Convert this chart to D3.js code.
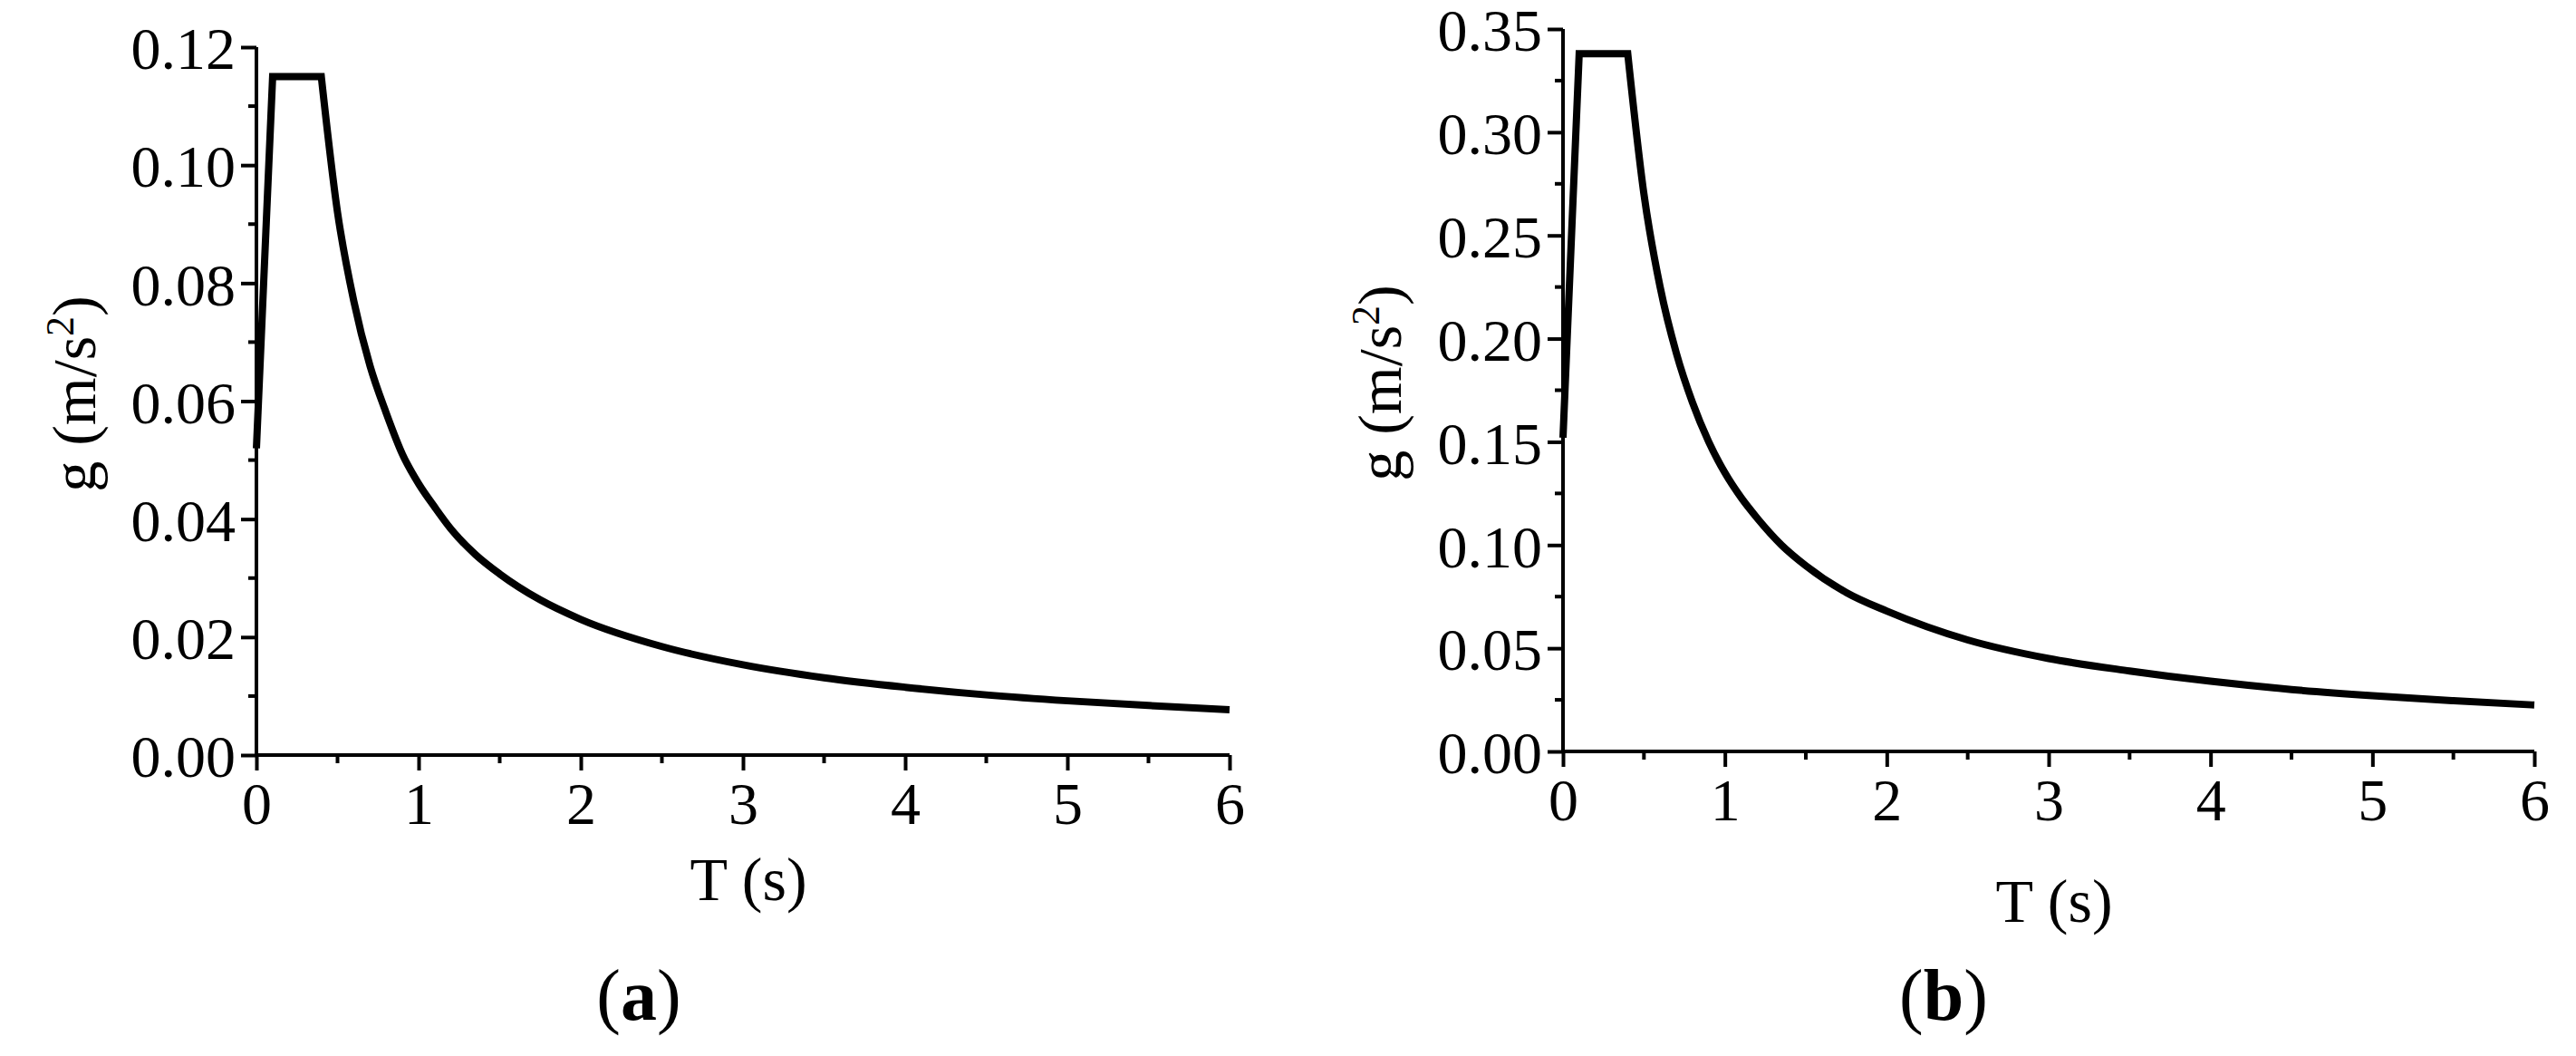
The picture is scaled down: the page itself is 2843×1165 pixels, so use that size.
<!DOCTYPE html>
<html>
<head>
<meta charset="utf-8">
<script src="https://cdn.jsdelivr.net/npm/d3@7"></script>
<style>
  body { margin: 0; background: #fff; }
  text { font-family: "Liberation Serif", "Times New Roman", serif; fill: #000; }
</style>
</head>
<body>
<svg id="chart" width="2843" height="1165"></svg>
<script>
// periods (s) sampled along the curve
const periods = [0, 0.1, 0.4, 0.5, 0.6, 0.7, 0.8, 0.9, 1.0, 1.1, 1.2, 1.35, 1.5, 1.75, 2, 2.5, 3, 3.5, 4, 4.5, 5, 5.5, 6];
// spectrum values
const seriesA = [0.052, 0.115, 0.115, 0.092, 0.077, 0.066, 0.058, 0.051, 0.046, 0.042, 0.0383, 0.034, 0.0307, 0.0263, 0.023, 0.0184, 0.0153, 0.0131, 0.0115, 0.0102, 0.0092, 0.0084, 0.0077];
// spectrum values
const seriesB = [0.152, 0.338, 0.338, 0.270, 0.225, 0.193, 0.169, 0.150, 0.135, 0.123, 0.113, 0.100, 0.090, 0.077, 0.068, 0.054, 0.045, 0.039, 0.034, 0.030, 0.027, 0.0246, 0.0225];
const xTicks = [0, 1, 2, 3, 4, 5, 6];
const yTicksA = [0, 0.02, 0.04, 0.06, 0.08, 0.10, 0.12];
const yTicksB = [0, 0.05, 0.10, 0.15, 0.20, 0.25, 0.30, 0.35];

const svg = d3.select('#chart');

function panel(opts) {
    const { left, right, top, bottom, yMax, yTicks, values, caption, ylabelX, tlabelY, captionX } = opts;
    const x = d3.scaleLinear().domain([0, 6]).range([left, right]);
    const y = d3.scaleLinear().domain([0, yMax]).range([bottom, top]);
    const g = svg.append('g');

    // minor ticks
    const xMinor = d3.range(0, 6.01, 0.5).filter(v => !xTicks.includes(v));
    const step = yTicks[1] - yTicks[0];
    const yMinor = yTicks.slice(0, -1).map(v => v + step / 2);

    const xAxis = d3.axisBottom(x).tickValues(xTicks).tickSize(17).tickPadding(12).tickFormat(d3.format('d'));
    const yAxis = d3.axisLeft(y).tickValues(yTicks).tickSize(17).tickPadding(6).tickFormat(d3.format('.2f'));

    const gx = g.append('g').attr('transform', `translate(0,${bottom})`).call(xAxis);
    const gy = g.append('g').attr('transform', `translate(${left},0)`).call(yAxis);
    [gx, gy].forEach(a => {
        a.select('.domain').attr('stroke', '#000').attr('stroke-width', 4);
        a.selectAll('.tick line').attr('stroke', '#000').attr('stroke-width', 4);
        a.selectAll('.tick text').style('font-size', '66px').style('font-family', '"Liberation Serif", serif');
    });
    gy.selectAll('.tick text').attr('dy', '0.36em');
    gx.select('.domain').attr('d', `M${left},0H${right}`);
    gy.select('.domain').attr('d', `M0,${bottom}V${top}`);

    g.selectAll('.xminor').data(xMinor).join('line')
        .attr('x1', d => x(d)).attr('x2', d => x(d))
        .attr('y1', bottom).attr('y2', bottom + 9)
        .attr('stroke', '#000').attr('stroke-width', 4);
    g.selectAll('.yminor').data(yMinor).join('line')
        .attr('x1', left).attr('x2', left - 9)
        .attr('y1', d => y(d)).attr('y2', d => y(d))
        .attr('stroke', '#000').attr('stroke-width', 4);

    const pts = values.map((v, i) => [periods[i], v]);
    // straight rise and plateau, smooth decay after the corner period
    const head = pts.slice(0, 3);
    const tail = pts.slice(2);
    const lin = d3.line().x(d => x(d[0])).y(d => y(d[1]));
    const smooth = d3.line().x(d => x(d[0])).y(d => y(d[1])).curve(d3.curveMonotoneX);
    g.append('path')
        .attr('d', lin(head) + smooth(tail).replace(/^M/, 'L'))
        .attr('fill', 'none').attr('stroke', '#000').attr('stroke-width', 8)
        .attr('stroke-linejoin', 'miter');

    g.append('text').attr('x', (left + right) / 2 + 6).attr('y', tlabelY)
        .attr('text-anchor', 'middle').style('font-size', '68px').text('T (s)');

    const yl = g.append('text')
        .attr('transform', `translate(${ylabelX},${(top + bottom) / 2 - 8}) rotate(-90)`)
        .attr('text-anchor', 'middle').style('font-size', '68px');
    yl.append('tspan').text('g (m/s');
    yl.append('tspan').attr('dy', -24).style('font-size', '44px').text('2');
    yl.append('tspan').attr('dy', 24).text(')');

    const cap = g.append('text').attr('x', captionX).attr('y', 1125)
        .attr('text-anchor', 'middle').style('font-size', '80px');
    cap.append('tspan').text('(');
    cap.append('tspan').style('font-weight', 'bold').text(caption);
    cap.append('tspan').text(')');
}

panel({ left: 283, right: 1357, top: 52, bottom: 833, yMax: 0.12, yTicks: yTicksA, values: seriesA,
        caption: 'a', ylabelX: 105, tlabelY: 993, captionX: 705 });
panel({ left: 1725, right: 2797, top: 32, bottom: 829, yMax: 0.35, yTicks: yTicksB, values: seriesB,
        caption: 'b', ylabelX: 1546, tlabelY: 1017, captionX: 2145 });
</script>
</body>
</html>
